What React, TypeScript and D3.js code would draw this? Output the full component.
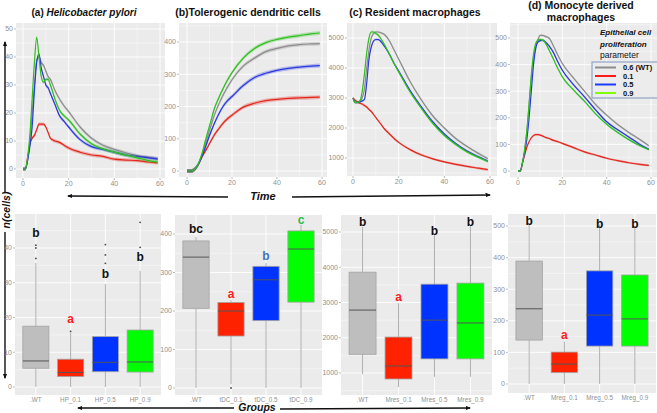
import React from "react";
import * as d3 from "d3";

const FONT = "'Liberation Sans', Arial, sans-serif";

// time points (hours) shared by all line panels
const times = [0, 1, 2, 3, 4, 5, 6, 7, 8, 9, 10, 11, 12, 14, 16, 18, 20, 25, 30, 35, 40, 45, 50, 55, 59];
const seriesNames = ["0.6 (WT)", "0.1", "0.5", "0.9"];

// (a) Helicobacter pylori
const hpWT = [0, 0, 3, 10, 20, 30, 39, 40, 38, 37, 35, 33, 32, 28, 25, 22.5, 20.5, 15, 11, 8.5, 7, 5.8, 4.8, 4.2, 3.8];
const hp01 = [0, 0, 4, 9, 11, 12, 14, 16, 16, 16, 15, 13, 11, 10, 9.5, 8.5, 7.5, 6, 5, 4.5, 3.5, 3.2, 3, 2.5, 2.2];
const hp05 = [0, 0, 3, 8, 15, 28, 38, 41, 36, 33, 30, 29, 27, 23, 19, 17, 15, 10.5, 8, 7, 6, 5, 4.5, 4, 3.5];
const hp09 = [0, 0, 4, 12, 25, 38, 47, 40, 33, 31, 32, 32, 30, 25, 21, 19, 17.5, 12.5, 9, 7.2, 6, 5, 4, 3, 2.5];

// (b) Tolerogenic dendritic cells
const tdcWT = [0, 0, 0, 3, 10, 20, 35, 57, 80, 102, 125, 148, 170, 205, 235, 260, 283, 325, 350, 370, 380, 388, 392, 394, 395];
const tdc01 = [0, 0, 0, 3, 10, 20, 35, 48, 60, 72, 85, 98, 110, 130, 148, 162, 173, 198, 210, 218, 222, 225, 227, 228, 229];
const tdc05 = [0, 0, 0, 3, 10, 20, 35, 52, 70, 90, 110, 128, 145, 175, 200, 218, 231, 265, 290, 303, 312, 318, 322, 325, 327];
const tdc09 = [0, 0, 0, 3, 10, 22, 40, 62, 90, 115, 140, 165, 190, 225, 255, 282, 305, 350, 380, 398, 408, 415, 420, 425, 428];

// (c) Resident macrophages
const mresWT = [3000, 2850, 2850, 2900, 3000, 3300, 4000, 4600, 5000, 5150, 5200, 5200, 5180, 5100, 4900, 4600, 4300, 3550, 2930, 2400, 2000, 1650, 1380, 1150, 980];
const mres01 = [3000, 2920, 2870, 2830, 2800, 2750, 2700, 2620, 2550, 2450, 2350, 2250, 2150, 1950, 1800, 1650, 1520, 1280, 1100, 970, 870, 790, 720, 660, 610];
const mres05 = [3000, 2850, 2850, 2880, 2900, 2950, 3500, 4300, 4700, 4900, 4950, 4950, 4900, 4700, 4450, 4150, 3900, 3250, 2700, 2200, 1800, 1480, 1230, 1040, 900];
const mres09 = [3000, 2850, 2850, 2900, 3200, 3800, 4500, 5000, 5200, 5200, 5150, 5100, 5000, 4750, 4450, 4150, 3870, 3200, 2650, 2150, 1750, 1450, 1200, 1020, 880];

// (d) Monocyte derived macrophages
const mregWT = [0, 0, 30, 80, 150, 250, 350, 420, 470, 495, 510, 510, 507, 500, 470, 435, 404, 350, 300, 250, 210, 175, 145, 118, 95];
const mreg01 = [0, 0, 30, 60, 90, 110, 125, 133, 137, 137, 135, 132, 128, 122, 115, 110, 104, 88, 72, 60, 48, 39, 31, 25, 21];
const mreg05 = [0, 0, 30, 70, 120, 200, 300, 400, 460, 485, 490, 492, 488, 470, 445, 410, 379, 325, 279, 230, 185, 155, 128, 100, 82];
const mreg09 = [0, 0, 30, 80, 150, 250, 360, 440, 480, 492, 495, 493, 485, 455, 420, 385, 354, 305, 262, 215, 176, 145, 118, 95, 80];

// boxplots
const groupsHP = [".WT", "HP_0.1", "HP_0.5", "HP_0.9"];
const hpQ1 = [5.4, 3, 4.4, 4.3];
const hpMed = [7.5, 4.2, 7.1, 7.2];
const hpQ3 = [17.5, 8, 14.5, 16.4];
const hpLo = [0, 0, 0, 0];
const hpHi = [35.7, 15.5, 29.6, 33.4];
const hpOut = [[37, 40, 40.8], [16], [35.6, 38, 41], [40.2, 47.4]];
const hpLetters = ["b", "a", "b", "b"];
const hpLetterY = [44.4, 19.6, 32.5, 37.5];

const groupsTDC = [".WT", "tDC_0.1", "tDC_0.5", "tDC_0.9"];
const tdcQ1 = [207, 135, 175, 223];
const tdcMed = [340, 200, 281, 361];
const tdcQ3 = [382, 222, 316, 408];
const tdcLo = [0, 10, 0, 0];
const tdcHi = [392, 228, 325, 424];
const tdcOut = [[], [0], [], []];
const tdcLetters = ["bc", "a", "b", "c"];
const tdcLetterY = [413, 244, 343, 436];

const groupsMres = [".WT", "Mres_0.1", "Mres_0.5", "Mres_0.9"];
const mresQ1 = [1530, 830, 1400, 1400];
const mresMed = [2785, 1200, 2500, 2420];
const mresQ3 = [3860, 2020, 3520, 3550];
const mresLo = [970, 600, 890, 890];
const mresHi = [5150, 2980, 4910, 5180];
const mresOut = [[], [], [], []];
const mresLetters = ["b", "a", "b", "b"];
const mresLetterY = [5280, 3150, 5030, 5280];

const groupsMreg = [".WT", "Mreg_0.1", "Mreg_0.5", "Mreg_0.9"];
const mregQ1 = [139, 36, 120, 120];
const mregMed = [238, 63, 218, 206];
const mregQ3 = [389, 101, 358, 345];
const mregLo = [0, 0, 0, 0];
const mregHi = [509, 134, 505, 500];
const mregOut = [[], [], [], []];
const mregLetters = ["b", "a", "b", "b"];
const mregLetterY = [516, 155, 506, 506];

const lineColors = ["#8c8c8c", "#e3261c", "#2a38e0", "#2fbf1f"];
const legendColors = ["#8c8c8c", "#ff1a1a", "#1a3cff", "#7fff00"];
const boxFills = ["#bebebe", "#ff2200", "#0033ff", "#00ff00"];
const BG = "#ebebeb";
const TICK = "#8f8f8f";

function minorOf(ticks, scale, lo, hi) {
  const step = ticks[1] - ticks[0];
  const cand = [ticks[0] - step / 2, ...ticks.map((t) => t + step / 2)];
  return cand.filter((v) => scale(v) > lo && scale(v) < hi);
}

function LinePanel({ bg, xp, yv, yp, yTicks, data, band }) {
  const x = d3.scaleLinear().domain([0, 60]).range(xp);
  const y = d3.scaleLinear().domain(yv).range(yp);
  const xTicks = [0, 20, 40, 60];
  const xMinor = minorOf(xTicks, x, bg.x, bg.x + bg.w);
  const yMinor = minorOf(yTicks, y, bg.y, bg.y + bg.h);
  const yIn = yTicks.filter((t) => y(t) >= bg.y && y(t) <= bg.y + bg.h);
  const line = d3
    .line<number>()
    .x((_, i) => x(times[i]))
    .y((d) => y(d))
    .curve(d3.curveMonotoneX);
  const area = d3
    .area<number>()
    .x((_, i) => x(times[i]))
    .y0((d) => y(d - band))
    .y1((d) => y(d + band))
    .curve(d3.curveMonotoneX);
  return (
    <g>
      <rect x={bg.x} y={bg.y} width={bg.w} height={bg.h} fill={BG} />
      {yMinor.map((v) => (
        <line key={"ym" + v} x1={bg.x} x2={bg.x + bg.w} y1={y(v)} y2={y(v)} stroke="#fff" strokeWidth={0.4} />
      ))}
      {xMinor.map((v) => (
        <line key={"xm" + v} y1={bg.y} y2={bg.y + bg.h} x1={x(v)} x2={x(v)} stroke="#fff" strokeWidth={0.4} />
      ))}
      {yIn.map((v) => (
        <line key={"yg" + v} x1={bg.x} x2={bg.x + bg.w} y1={y(v)} y2={y(v)} stroke="#fff" strokeWidth={0.9} />
      ))}
      {xTicks.map((v) => (
        <line key={"xg" + v} y1={bg.y} y2={bg.y + bg.h} x1={x(v)} x2={x(v)} stroke="#fff" strokeWidth={0.9} />
      ))}
      {data.map((s, i) => (
        <g key={i}>
          <path d={area(s) || ""} fill={lineColors[i]} opacity={0.3} />
          <path d={line(s) || ""} fill="none" stroke={lineColors[i]} strokeWidth={1.2} />
        </g>
      ))}
      {yIn.map((v) => (
        <g key={"yt" + v}>
          <line x1={bg.x - 2} x2={bg.x} y1={y(v)} y2={y(v)} stroke={TICK} strokeWidth={0.6} />
          <text x={bg.x - 3} y={y(v)} dy="0.35em" textAnchor="end" fontSize={7} fill={TICK} fontFamily={FONT}>
            {v}
          </text>
        </g>
      ))}
      {xTicks.map((v) => (
        <g key={"xt" + v}>
          <line y1={bg.y + bg.h} y2={bg.y + bg.h + 2} x1={x(v)} x2={x(v)} stroke={TICK} strokeWidth={0.6} />
          <text x={x(v)} y={bg.y + bg.h + 8} textAnchor="middle" fontSize={7} fill={TICK} fontFamily={FONT}>
            {v}
          </text>
        </g>
      ))}
    </g>
  );
}

function BoxPanel({ bg, yv, yp, yTicks, groups, q1, med, q3, lo, hi, out, letters, letterY, letterColors }) {
  const x = d3.scalePoint().domain(groups).range([bg.x, bg.x + bg.w]).padding(0.6);
  const y = d3.scaleLinear().domain(yv).range(yp);
  const bw = x.step() * 0.75;
  const yMinor = minorOf(yTicks, y, bg.y, bg.y + bg.h);
  const yIn = yTicks.filter((t) => y(t) >= bg.y && y(t) <= bg.y + bg.h);
  return (
    <g>
      <rect x={bg.x} y={bg.y} width={bg.w} height={bg.h} fill={BG} />
      {yMinor.map((v) => (
        <line key={"ym" + v} x1={bg.x} x2={bg.x + bg.w} y1={y(v)} y2={y(v)} stroke="#fff" strokeWidth={0.4} />
      ))}
      {yIn.map((v) => (
        <line key={"yg" + v} x1={bg.x} x2={bg.x + bg.w} y1={y(v)} y2={y(v)} stroke="#fff" strokeWidth={0.9} />
      ))}
      {groups.map((g) => (
        <line key={"xg" + g} y1={bg.y} y2={bg.y + bg.h} x1={x(g)} x2={x(g)} stroke="#fff" strokeWidth={0.9} />
      ))}
      {groups.map((g, i) => {
        const cx = x(g) as number;
        return (
          <g key={g}>
            <line x1={cx} x2={cx} y1={y(lo[i])} y2={y(hi[i])} stroke="#9a9a9a" strokeWidth={0.8} />
            <rect
              x={cx - bw / 2}
              y={y(q3[i])}
              width={bw}
              height={y(q1[i]) - y(q3[i])}
              fill={boxFills[i]}
              stroke="#a3a3a3"
              strokeWidth={0.8}
            />
            <line x1={cx - bw / 2} x2={cx + bw / 2} y1={y(med[i])} y2={y(med[i])} stroke="#555" strokeWidth={1} />
            {out[i].map((o, k) => (
              <circle key={k} cx={cx} cy={y(o)} r={0.9} fill="#444" />
            ))}
            <text
              x={cx}
              y={y(letterY[i])}
              dy="0.35em"
              textAnchor="middle"
              fontSize={12}
              fontWeight="bold"
              fill={letterColors[i]}
              fontFamily={FONT}
            >
              {letters[i]}
            </text>
            <text x={cx} y={bg.y + bg.h + 6.5} textAnchor="middle" fontSize={6.3} fill={TICK} fontFamily={FONT}>
              {g}
            </text>
          </g>
        );
      })}
      {yIn.map((v) => (
        <g key={"yt" + v}>
          <line x1={bg.x - 2} x2={bg.x} y1={y(v)} y2={y(v)} stroke={TICK} strokeWidth={0.6} />
          <text x={bg.x - 3} y={y(v)} dy="0.35em" textAnchor="end" fontSize={7} fill={TICK} fontFamily={FONT}>
            {v}
          </text>
        </g>
      ))}
    </g>
  );
}

function Arrow({ x1, y1, x2, y2 }) {
  return <line x1={x1} y1={y1} x2={x2} y2={y2} stroke="#111" strokeWidth={1.4} markerEnd="url(#arrowhead)" />;
}

export default function App() {
  const black = "#111";
  return (
    <svg width={657} height={413} style={{ position: "absolute", left: 0, top: 0, background: "#fff" }}>
      <defs>
        <marker id="arrowhead" viewBox="0 0 10 10" refX={8} refY={5} markerWidth={4} markerHeight={4} orient="auto">
          <path d="M0,1 L10,5 L0,9 z" fill="#111" />
        </marker>
      </defs>

      {/* titles */}
      <text x={84} y={16} textAnchor="middle" fontSize={10} fontWeight="bold" fontFamily={FONT} fill={black}>
        (a) <tspan fontStyle="italic">Helicobacter pylori</tspan>
      </text>
      <text x={248} y={16} textAnchor="middle" fontSize={10.5} fontWeight="bold" fontFamily={FONT} fill={black}>
        (b)Tolerogenic dendritic cells
      </text>
      <text x={415} y={16} textAnchor="middle" fontSize={10.5} fontWeight="bold" fontFamily={FONT} fill={black}>
        (c) Resident macrophages
      </text>
      <text x={581} y={9} textAnchor="middle" fontSize={10.5} fontWeight="bold" fontFamily={FONT} fill={black}>
        (d) Monocyte derived
      </text>
      <text x={581} y={20.5} textAnchor="middle" fontSize={10.5} fontWeight="bold" fontFamily={FONT} fill={black}>
        macrophages
      </text>

      {/* time courses */}
      <LinePanel
        bg={{ x: 16, y: 23, w: 149, h: 155 }}
        xp={[23, 160]}
        yv={[0, 50]}
        yp={[169, 29]}
        yTicks={[0, 10, 20, 30, 40, 50]}
        data={[hpWT, hp01, hp05, hp09]}
        band={0.6}
      />
      <LinePanel
        bg={{ x: 179, y: 23, w: 148, h: 154 }}
        xp={[187, 322]}
        yv={[0, 400]}
        yp={[171, 42]}
        yTicks={[0, 100, 200, 300, 400]}
        data={[tdcWT, tdc01, tdc05, tdc09]}
        band={6}
      />
      <LinePanel
        bg={{ x: 347, y: 23, w: 150, h: 153 }}
        xp={[353, 490]}
        yv={[1000, 5000]}
        yp={[158, 38]}
        yTicks={[1000, 2000, 3000, 4000, 5000]}
        data={[mresWT, mres01, mres05, mres09]}
        band={40}
      />
      <LinePanel
        bg={{ x: 510, y: 23, w: 147, h: 154 }}
        xp={[518, 651]}
        yv={[0, 500]}
        yp={[171, 38]}
        yTicks={[0, 100, 200, 300, 400, 500]}
        data={[mregWT, mreg01, mreg05, mreg09]}
        band={4}
      />

      {/* legend */}
      <text x={600} y={35} fontSize={8} fontWeight="bold" fontStyle="italic" fontFamily={FONT} fill={black}>
        Epithelial cell
      </text>
      <text x={600} y={46.5} fontSize={8} fontWeight="bold" fontStyle="italic" fontFamily={FONT} fill={black}>
        proliferation
      </text>
      <text x={600} y={58} fontSize={8.5} fontFamily={FONT} fill={black}>
        parameter
      </text>
      <rect x={592} y={62} width={66} height={36} fill="#ececec" stroke="#7f95c2" strokeWidth={1} />
      {seriesNames.map((n, i) => {
        const ly = [67.5, 76, 84.5, 93][i];
        return (
          <g key={n}>
            <line x1={595} x2={616} y1={ly} y2={ly} stroke={legendColors[i]} strokeWidth={2} />
            <text x={623} y={ly} dy="0.35em" fontSize={7.5} fontWeight="bold" fontFamily={FONT} fill={black}>
              {n}
            </text>
          </g>
        );
      })}

      {/* Time label and arrows */}
      <text x={263} y={200} textAnchor="middle" fontSize={11} fontWeight="bold" fontStyle="italic" fontFamily={FONT} fill={black}>
        Time
      </text>
      <Arrow x1={228} y1={197} x2={68} y2={196} />
      <Arrow x1={292} y1={197} x2={490} y2={195} />

      {/* y label and arrows */}
      <text
        transform="translate(10,210) rotate(-90)"
        textAnchor="middle"
        fontSize={10.5}
        fontWeight="bold"
        fontStyle="italic"
        fontFamily={FONT}
        fill={black}
      >
        n(cells)
      </text>
      <Arrow x1={5} y1={192} x2={5} y2={42} />
      <Arrow x1={5} y1={232} x2={5} y2={378} />

      {/* boxplots */}
      <BoxPanel
        bg={{ x: 15, y: 214, w: 146, h: 181 }}
        yv={[0, 40]}
        yp={[387, 248]}
        yTicks={[0, 10, 20, 30, 40]}
        groups={groupsHP}
        q1={hpQ1}
        med={hpMed}
        q3={hpQ3}
        lo={hpLo}
        hi={hpHi}
        out={hpOut}
        letters={hpLetters}
        letterY={hpLetterY}
        letterColors={[black, "#ff1a1a", black, black]}
      />
      <BoxPanel
        bg={{ x: 175, y: 215, w: 147, h: 180 }}
        yv={[0, 400]}
        yp={[388, 234]}
        yTicks={[0, 100, 200, 300, 400]}
        groups={groupsTDC}
        q1={tdcQ1}
        med={tdcMed}
        q3={tdcQ3}
        lo={tdcLo}
        hi={tdcHi}
        out={tdcOut}
        letters={tdcLetters}
        letterY={tdcLetterY}
        letterColors={[black, "#ff1a1a", "#4472c4", "#2eb84b"]}
      />
      <BoxPanel
        bg={{ x: 341, y: 215, w: 151, h: 180 }}
        yv={[1000, 5000]}
        yp={[373, 232]}
        yTicks={[1000, 2000, 3000, 4000, 5000]}
        groups={groupsMres}
        q1={mresQ1}
        med={mresMed}
        q3={mresQ3}
        lo={mresLo}
        hi={mresHi}
        out={mresOut}
        letters={mresLetters}
        letterY={mresLetterY}
        letterColors={[black, "#ff1a1a", black, black]}
      />
      <BoxPanel
        bg={{ x: 508, y: 214, w: 148, h: 179 }}
        yv={[0, 500]}
        yp={[384, 226]}
        yTicks={[0, 100, 200, 300, 400, 500]}
        groups={groupsMreg}
        q1={mregQ1}
        med={mregMed}
        q3={mregQ3}
        lo={mregLo}
        hi={mregHi}
        out={mregOut}
        letters={mregLetters}
        letterY={mregLetterY}
        letterColors={[black, "#ff1a1a", black, black]}
      />

      {/* Groups label and arrows */}
      <text x={257} y={411} textAnchor="middle" fontSize={10.5} fontWeight="bold" fontStyle="italic" fontFamily={FONT} fill={black}>
        Groups
      </text>
      <Arrow x1={234} y1={408} x2={78} y2={408} />
      <Arrow x1={280} y1={409} x2={470} y2={408} />
    </svg>
  );
}
